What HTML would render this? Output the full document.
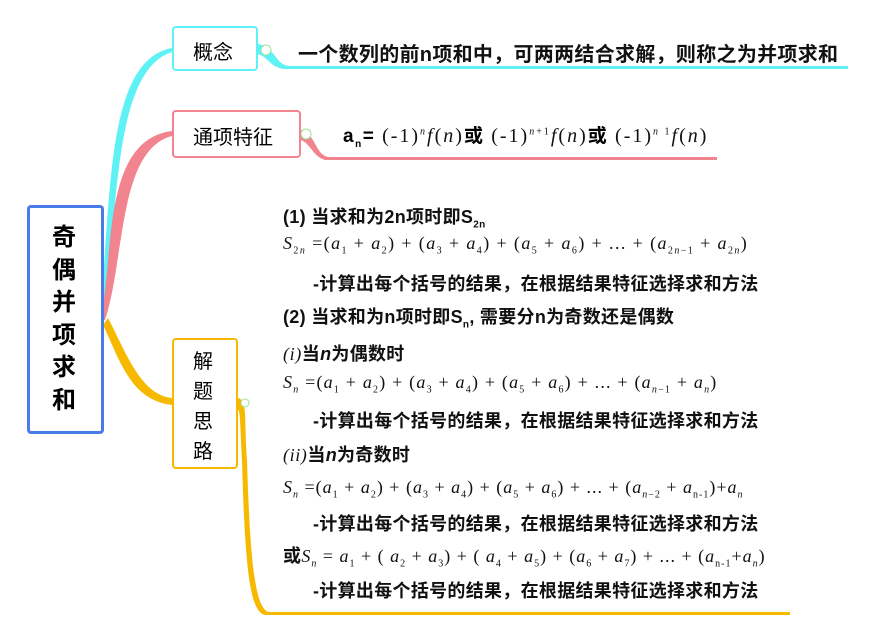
<!DOCTYPE html>
<html><head><meta charset="utf-8"><style>
body{margin:0;width:873px;height:638px;background:#fff;position:relative;overflow:hidden;font-family:"Liberation Sans","Noto Sans CJK SC",sans-serif;}
.a{position:absolute;white-space:nowrap;}
.t{font-size:18px;font-weight:bold;color:#111;letter-spacing:0.3px;}
.m{font-family:"Liberation Serif","Noto Sans CJK SC",serif;font-size:18px;color:#111;font-weight:normal;letter-spacing:0.6px;}
.m i{font-style:italic}
sub,sup{font-size:10px}
.box{position:absolute;background:#fff;border-radius:4px;box-sizing:border-box;}
</style></head><body>
<svg class="a" style="left:0;top:0" width="873" height="638">
<path d="M100 310 C112 200,105 60,172 48 L172 52 C115 70,118 200,105 310Z" fill="#5ef2f7"/>
<path d="M100 320 C115 260,100 140,172 131 L172 136 C118 150,125 260,105 320Z" fill="#f28490"/>
<path d="M103 325 C120 360,130 400,172 405 L172 398 C140 395,125 350,108 318Z" fill="#f7b900"/>
<path d="M257 44 C275 45,275 66,290 66 L848 66 L848 69 L285 69 C270 68,268 56,257 54Z" fill="#5ef2f7"/>
<path d="M300 130 C316 132,315 157,330 157 L717 157 L717 160 L325 160 C312 156,310 142,300 140Z" fill="#f28490"/>
<path d="M238 398 C248 400,244 420,247 460 C250 560,255 612,270 612 L790 612 L790 615 L265 615 C250 612,245 570,242 460 C240 420,240 410,238 410Z" fill="#f7b900"/>
<circle cx="266" cy="50" r="5" fill="#fff" stroke="#9be39b"/><circle cx="306" cy="134" r="5" fill="#fff" stroke="#9be39b"/><circle cx="245" cy="403" r="4" fill="#fff" stroke="#9be39b"/>
</svg>
<div class="box" style="left:27px;top:205px;width:77px;height:229px;border:3px solid #4a7be8;"></div>
<div class="a" style="left:50px;top:222px;width:28px;font-size:24px;font-weight:bold;line-height:32.5px;white-space:normal;text-align:center">奇偶并项求和</div>
<div class="box" style="left:172px;top:26px;width:86px;height:45px;border:2px solid #5ef2f7;"></div>
<div class="a" style="left:193px;top:36px;font-size:20px">概念</div>
<div class="box" style="left:172px;top:110px;width:129px;height:48px;border:2px solid #f28490;"></div>
<div class="a" style="left:193px;top:121px;font-size:20px">通项特征</div>
<div class="box" style="left:172px;top:338px;width:66px;height:131px;border:2px solid #f7b900;"></div>
<div class="a" style="left:193px;top:347px;width:21px;font-size:20px;line-height:30px;white-space:normal">解题思路</div>
<div class="a t" style="left:298px;top:38px;font-size:20px;letter-spacing:0.3px">一个数列的前n项和中，可两两结合求解，则称之为并项求和</div>
<div class="a" style="left:343px;top:121px;font-size:19px;font-weight:bold;letter-spacing:1.5px">a<sub>n</sub>= <span class="m" style="font-size:20px;letter-spacing:2px">(-1)<sup><i>n</i></sup><i>f</i>(<i>n</i>)</span>或 <span class="m" style="font-size:20px;letter-spacing:2px">(-1)<sup><i>n</i>+1</sup><i>f</i>(<i>n</i>)</span>或 <span class="m" style="font-size:20px;letter-spacing:2px">(-1)<sup><i>n</i> 1</sup><i>f</i>(<i>n</i>)</span></div>
<div class="a t" style="left:283px;top:203px">(1) 当求和为2n项时即S<sub>2n</sub></div>
<div class="a m" style="left:283px;top:233px;letter-spacing:1.4px"><i>S</i><sub>2<i>n</i></sub> =(<i>a</i><sub>1</sub> + <i>a</i><sub>2</sub>) + (<i>a</i><sub>3</sub> + <i>a</i><sub>4</sub>) + (<i>a</i><sub>5</sub> + <i>a</i><sub>6</sub>) + ... + (<i>a</i><sub>2<i>n</i>−1</sub> + <i>a</i><sub>2<i>n</i></sub>)</div>
<div class="a t" style="left:313px;top:270px">-计算出每个括号的结果，在根据结果特征选择求和方法</div>
<div class="a t" style="left:283px;top:303px">(2) 当求和为n项时即S<sub>n</sub>, 需要分n为奇数还是偶数</div>
<div class="a t" style="left:283px;top:340px"><span class="m"><i>(i)</i></span>当<i>n</i>为偶数时</div>
<div class="a m" style="left:283px;top:372px;letter-spacing:1.2px"><i>S<sub>n</sub></i> =(<i>a</i><sub>1</sub> + <i>a</i><sub>2</sub>) + (<i>a</i><sub>3</sub> + <i>a</i><sub>4</sub>) + (<i>a</i><sub>5</sub> + <i>a</i><sub>6</sub>) + ... + (<i>a</i><sub><i>n</i>−1</sub> + <i>a<sub>n</sub></i>)</div>
<div class="a t" style="left:313px;top:407px">-计算出每个括号的结果，在根据结果特征选择求和方法</div>
<div class="a t" style="left:283px;top:441px"><span class="m"><i>(ii)</i></span>当<i>n</i>为奇数时</div>
<div class="a m" style="left:283px;top:477px;letter-spacing:1px"><i>S<sub>n</sub></i> =(<i>a</i><sub>1</sub> + <i>a</i><sub>2</sub>) + (<i>a</i><sub>3</sub> + <i>a</i><sub>4</sub>) + (<i>a</i><sub>5</sub> + <i>a</i><sub>6</sub>) + ... + (<i>a</i><sub><i>n</i>−2</sub> + <i>a</i><sub>n-1</sub>)+<i>a<sub>n</sub></i></div>
<div class="a t" style="left:313px;top:510px">-计算出每个括号的结果，在根据结果特征选择求和方法</div>
<div class="a t" style="left:283px;top:542px">或<span class="m" style="letter-spacing:1px"><i>S<sub>n</sub></i> = <i>a</i><sub>1</sub> + ( <i>a</i><sub>2</sub> + <i>a</i><sub>3</sub>) + ( <i>a</i><sub>4</sub> + <i>a</i><sub>5</sub>) + (<i>a</i><sub>6</sub> + <i>a</i><sub>7</sub>) + ... + (<i>a</i><sub>n-1</sub>+<i>a<sub>n</sub></i>)</span></div>
<div class="a t" style="left:313px;top:577px">-计算出每个括号的结果，在根据结果特征选择求和方法</div>
</body></html>
